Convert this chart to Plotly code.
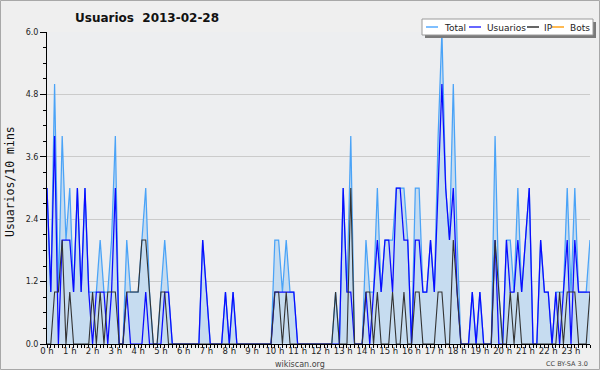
import plotly.graph_objects as go

# ---- data (10-minute buckets, 2013-02-28) ----
hour_labels = [f"{h} h" for h in range(24)]

usuarios = [
    3, 1, 4, 0, 2, 2,   2, 1, 3, 1, 3, 1,   0, 1, 1, 1, 0, 1,   3, 0, 0, 1, 0, 0,
    0, 0, 1, 0, 0, 0,   0, 1, 1, 0, 0, 0,   0, 0, 0, 0, 0, 2,   1, 0, 0, 0, 0, 1,
    0, 1, 0, 0, 0, 0,   0, 0, 0, 0, 0, 0,   1, 1, 1, 1, 1, 1,   0, 0, 0, 0, 0, 0,
    0, 0, 0, 0, 0, 0,   3, 1, 1, 0, 0, 0,   1, 0, 1, 2, 1, 2,   2, 1, 3, 3, 2, 2,
    0, 2, 2, 1, 1, 2,   1, 3, 5, 3, 2, 3,   1, 0, 0, 0, 1, 0,   1, 0, 0, 0, 2, 0,
    0, 2, 1, 1, 2, 1,   2, 3, 0, 0, 2, 1,   1, 0, 1, 0, 1, 2,   0, 2, 1, 1, 1, 1,
]
ip = [
    0, 0, 1, 1, 2, 0,   1, 0, 0, 0, 0, 0,   1, 0, 1, 0, 1, 1,   1, 0, 0, 1, 1, 1,
    1, 2, 2, 1, 0, 0,   1, 1, 0, 0, 0, 0,   0, 0, 0, 0, 0, 0,   0, 0, 0, 0, 0, 0,
    0, 0, 0, 0, 0, 0,   0, 0, 0, 0, 0, 0,   1, 1, 0, 1, 0, 0,   0, 0, 0, 0, 0, 0,
    0, 0, 0, 0, 1, 0,   0, 0, 3, 0, 0, 0,   1, 1, 0, 1, 0, 0,   0, 1, 0, 0, 1, 0,
    0, 1, 1, 0, 0, 0,   0, 1, 1, 0, 0, 2,   1, 0, 0, 0, 0, 0,   0, 0, 0, 0, 2, 1,
    0, 0, 1, 0, 1, 0,   0, 0, 0, 0, 0, 0,   0, 0, 0, 1, 0, 1,   1, 1, 0, 0, 0, 1,
]
total = [
    3, 1, 5, 1, 4, 2,   3, 1, 3, 1, 3, 1,   1, 1, 2, 1, 1, 2,   4, 0, 0, 2, 1, 1,
    1, 2, 3, 1, 0, 0,   1, 2, 1, 0, 0, 0,   0, 0, 0, 0, 0, 2,   1, 0, 0, 0, 0, 1,
    0, 1, 0, 0, 0, 0,   0, 0, 0, 0, 0, 0,   2, 2, 1, 2, 1, 1,   0, 0, 0, 0, 0, 0,
    0, 0, 0, 0, 1, 0,   3, 1, 4, 0, 0, 0,   2, 1, 1, 3, 1, 2,   2, 2, 3, 3, 3, 2,
    0, 3, 3, 1, 1, 2,   1, 4, 6, 3, 2, 5,   2, 0, 0, 0, 1, 0,   1, 0, 0, 0, 4, 1,
    0, 2, 2, 1, 3, 1,   2, 3, 0, 0, 2, 1,   1, 0, 1, 1, 1, 3,   1, 3, 1, 1, 1, 2,
]
bots = [0] * 144
slots = list(range(144))

# ---- geometry helpers (pixel -> paper) ----
L, R, T, B = 47, 590, 32, 344
def px(x):
    return (x - L) / (R - L)
def py(y):
    return (B - y) / (B - T)

fig = go.Figure()
fig.add_trace(go.Scatter(x=slots, y=bots, mode="lines", name="Bots",
                         line=dict(color="#ffa31a", width=1)))
fig.add_trace(go.Scatter(x=slots, y=total, mode="lines", name="Total",
                         line=dict(color="#4aa3f7", width=1.25),
                         fill="tozeroy", fillcolor="#c6dcf0"))
fig.add_trace(go.Scatter(x=slots, y=usuarios, mode="lines", name="Usuarios",
                         line=dict(color="#0a0aff", width=1.25)))
fig.add_trace(go.Scatter(x=slots, y=ip, mode="lines", name="IP",
                         line=dict(color="#333333", width=1.1)))

shapes = []
# outer border
shapes.append(dict(type="rect", xref="paper", yref="paper",
                   x0=px(0.5), x1=px(599.5), y0=py(369.5), y1=py(0.5),
                   line=dict(color="#a8a8a8", width=1), fillcolor="rgba(0,0,0,0)", layer="above"))
# legend shadow and box
shapes.append(dict(type="rect", xref="paper", yref="paper",
                   x0=px(425), x1=px(596), y0=py(38), y1=py(22),
                   line=dict(width=0), fillcolor="#7a7a7a", layer="above"))
shapes.append(dict(type="rect", xref="paper", yref="paper",
                   x0=px(422), x1=px(593), y0=py(35), y1=py(19),
                   line=dict(color="#9a9a9a", width=1), fillcolor="white", layer="above"))

legend_items = [("Total", "#55aaff", 426, 442), ("Usuarios", "#3333ff", 469, 485),
                ("IP", "#333333", 527, 542), ("Bots", "#ffa31a", 552, 568)]
annotations = []
for name, col, sx, tx in legend_items:
    shapes.append(dict(type="line", xref="paper", yref="paper",
                       x0=px(sx), x1=px(sx + 12), y0=py(27), y1=py(27),
                       line=dict(color=col, width=1.5), layer="above"))
    annotations.append(dict(text=name, xref="paper", yref="paper", x=px(tx), y=py(27.5),
                            xanchor="left", yanchor="middle", showarrow=False,
                            font=dict(family="DejaVu Sans", size=9, color="#222")))

annotations.append(dict(text="Usuarios/10 mins", xref="paper", yref="paper",
                        x=px(10), y=py(182), textangle=-90, showarrow=False,
                        xanchor="center", yanchor="middle",
                        font=dict(family="DejaVu Sans Mono", size=11.5, color="#111")))
annotations.append(dict(text="wikiscan.org", xref="paper", yref="paper",
                        x=px(300), y=py(364), showarrow=False,
                        xanchor="center", yanchor="middle",
                        font=dict(family="DejaVu Sans", size=8, color="#444")))
annotations.append(dict(text="CC BY-SA 3.0", xref="paper", yref="paper",
                        x=px(590), y=py(364), showarrow=False,
                        xanchor="right", yanchor="middle",
                        font=dict(family="DejaVu Sans", size=6.5, color="#444")))

fig.update_layout(
    width=600, height=370,
    margin=dict(l=L, r=600 - R, t=T, b=370 - B, pad=0),
    paper_bgcolor="#efefef", plot_bgcolor="#edeef0",
    showlegend=False,
    title=dict(text="Usuarios\u00a0\u00a02013-02-28", x=75 / 600, xanchor="left",
               xref="container", yref="container", y=1 - 18 / 370, yanchor="middle",
               font=dict(family="DejaVu Sans", size=12, color="#111", weight="bold")),
    shapes=shapes, annotations=annotations,
    xaxis=dict(range=[0, 143], tickvals=list(range(0, 144, 6)), ticktext=hour_labels,
               showgrid=False, zeroline=False, showline=True, linecolor="black", linewidth=1,
               ticks="outside", ticklen=3, tickcolor="black", ticklabelstandoff=-4,
               minor=dict(dtick=1, ticks="outside", ticklen=3, tickcolor="black", showgrid=False),
               tickfont=dict(family="DejaVu Sans", size=8.5, color="#222")),
    yaxis=dict(range=[0, 6], tick0=0, dtick=1.2, tickformat=".1f",
               showgrid=True, gridcolor="#cbcbcb", gridwidth=1, zeroline=False,
               showline=True, linecolor="black", linewidth=1,
               ticks="outside", ticklen=6, tickcolor="black",
               minor=dict(dtick=0.3, ticks="outside", ticklen=3, tickcolor="black", showgrid=False),
               tickfont=dict(family="DejaVu Sans", size=8, color="#222")),
)

fig.write_html("out.html")
